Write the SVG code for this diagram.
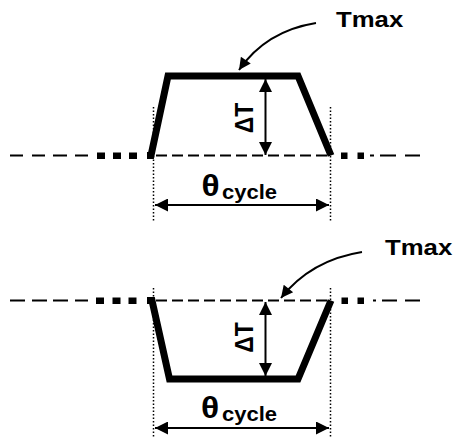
<svg xmlns="http://www.w3.org/2000/svg" width="454" height="438" viewBox="0 0 454 438">
  <style>
    .bg { fill: #ffffff; }
    .thick { fill: none; stroke: #000; stroke-width: 7; stroke-linejoin: miter; stroke-linecap: butt; }
    .thin { fill: none; stroke: #000; stroke-width: 2; }
    .dash { fill: none; stroke: #000; stroke-width: 2; stroke-dasharray: 11 5; }
    .dot { fill: none; stroke: #000; stroke-width: 1.5; stroke-dasharray: 1.5 2; }
    .sq { fill: #000; }
    .arrow { fill: none; stroke: #000; stroke-width: 2; marker-start: url(#ah); marker-end: url(#ah); }
    .curve { fill: none; stroke: #000; stroke-width: 2; marker-end: url(#ah2); }
    .lbl { font-family: "Liberation Sans", Arial, sans-serif; font-weight: bold; fill: #000; }
    .theta { font-family: "Liberation Sans", Arial, sans-serif; font-weight: bold; fill: #000; }
  </style>
  <defs>
    <marker id="ah" viewBox="0 0 10 10" refX="10" refY="5" markerUnits="userSpaceOnUse" markerWidth="18" markerHeight="13" orient="auto-start-reverse">
      <path d="M0,0 L10,5 L0,10 z" fill="#000"/>
    </marker>
    <marker id="ah2" viewBox="0 0 10 10" refX="10" refY="5" markerUnits="userSpaceOnUse" markerWidth="17" markerHeight="12" orient="auto">
      <path d="M0,0 L10,5 L0,10 z" fill="#000"/>
    </marker>
  </defs>
  <rect class="bg" x="0" y="0" width="454" height="438"/>

  <!-- Top diagram -->
  <g id="top-baseline">
    <path class="thin" d="M10,155.5 H23 M32,155.5 H45 M53,155.5 H67 M75,155.5 H88"/>
    <rect class="sq" x="97" y="152.5" width="8" height="6.5"/>
    <rect class="sq" x="113" y="152.5" width="8" height="6.5"/>
    <rect class="sq" x="129" y="152.5" width="8" height="6.5"/>
    <path class="dash" d="M156,155.5 H328"/>
    <rect class="sq" x="341" y="152.5" width="6.5" height="6.5"/>
    <rect class="sq" x="357.5" y="152.5" width="6.5" height="6.5"/>
    <path class="thin" d="M370,155.5 H374 M380,155.5 H396 M405,155.5 H420"/>
  </g>
  <g id="top-pulse">
    <path class="thick" d="M147,155.5 H151 L168,76 H298 L331,155.5"/>
  </g>
  <g id="top-limits">
    <path class="dot" d="M153.5,107 V222 M330.5,107 V222"/>
  </g>
  <g id="top-deltaT">
    <line class="arrow" x1="265.5" y1="155" x2="265.5" y2="79"/>
    <text class="lbl" font-size="23" text-anchor="middle" transform="translate(253,118) scale(1.15,1) rotate(-90)">ΔT</text>
  </g>
  <g id="top-cycle">
    <line class="arrow" x1="155" y1="205" x2="329" y2="205"/>
    <text class="theta" font-size="30" transform="translate(201.5,195.5) scale(1.12,1)">θ</text>
    <text class="lbl" font-size="20" transform="translate(222,199) scale(1.1,1)">cycle</text>
  </g>
  <g id="top-tmax">
    <text class="lbl" font-size="23" transform="translate(336,27) scale(1.12,1)">Tmax</text>
  </g>

  <!-- Bottom diagram -->
  <g id="bottom-baseline">
    <path class="thin" d="M10,300.5 H25 M32,300.5 H47 M53,300.5 H68 M75,300.5 H88"/>
    <rect class="sq" x="96" y="297.5" width="8" height="6.5"/>
    <rect class="sq" x="112.5" y="297.5" width="8" height="6.5"/>
    <rect class="sq" x="128.5" y="297.5" width="8" height="6.5"/>
    <path class="dash" d="M156,300.5 H328"/>
    <rect class="sq" x="341.5" y="297.5" width="6.5" height="6.5"/>
    <rect class="sq" x="357.5" y="297.5" width="6.5" height="6.5"/>
    <path class="thin" d="M373,300.5 H376 M382,300.5 H397 M405,300.5 H420"/>
  </g>
  <g id="bottom-pulse">
    <path class="thick" d="M147,300.5 H152 L169.5,379 H298 L331,300.5"/>
  </g>
  <g id="bottom-limits">
    <path class="dot" d="M153.5,288 V438 M330.5,288 V438"/>
  </g>
  <g id="bottom-deltaT">
    <line class="arrow" x1="265.5" y1="302" x2="265.5" y2="376"/>
    <text class="lbl" font-size="23" text-anchor="middle" transform="translate(253,337.5) scale(1.15,1) rotate(-90)">ΔT</text>
  </g>
  <g id="bottom-cycle">
    <line class="arrow" x1="155" y1="428" x2="329" y2="428"/>
    <text class="theta" font-size="30" transform="translate(201,417.5) scale(1.12,1)">θ</text>
    <text class="lbl" font-size="20" transform="translate(222,421) scale(1.1,1)">cycle</text>
  </g>
  <g id="bottom-tmax">
    <text class="lbl" font-size="23" transform="translate(385,255) scale(1.12,1)">Tmax</text>
  </g>

  <g id="connectors">
    <path class="curve" d="M316,23 Q266,31 239,70"/>
    <path class="curve" d="M362,252 Q311,260 281,298"/>
  </g>
</svg>
